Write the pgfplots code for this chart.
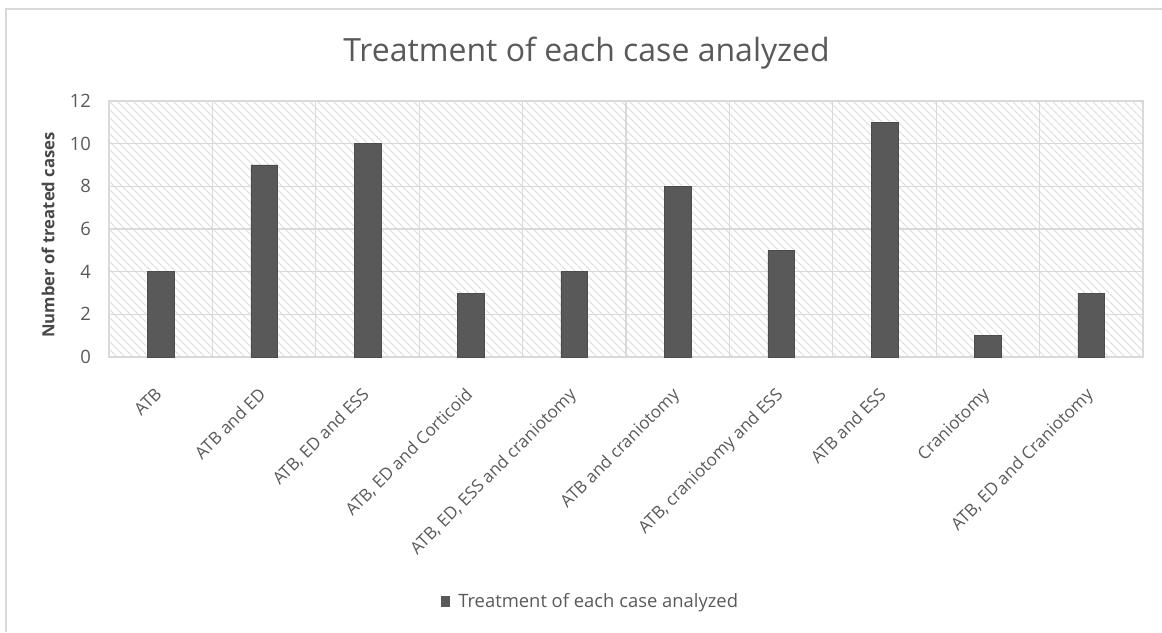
\documentclass[border=0pt]{standalone}
\usepackage{pgfplots}
\pgfplotsset{compat=1.18}
\usepackage{fontspec}
\setmainfont{Open Sans}
\usetikzlibrary{patterns.meta}
\definecolor{textgray}{HTML}{595959}
\definecolor{gridgray}{HTML}{D9D9D9}
\definecolor{hatchgray}{HTML}{DCDCDC}
\definecolor{barfill}{HTML}{595959}
\definecolor{framegray}{HTML}{D9D9D9}
\begin{document}
\begin{tikzpicture}
\path[use as bounding box] (0pt,0pt) rectangle (871.5pt,474pt);
\draw[framegray, line width=1.5pt] (4.5pt,0pt) -- (4.5pt,467.25pt) -- (871.5pt,467.25pt);
\node[anchor=base, text=textgray, font=\fontsize{24}{28}\selectfont, inner sep=0pt] at (439.9pt,427.5pt) {Treatment of each case analyzed};
\node[rotate=90, text=textgray!80!black, font=\fontsize{12.5}{15}\selectfont\bfseries, inner sep=0pt] at (36pt,297.75pt) {Number of treated cases};
\begin{axis}[
  at={(81.75pt,206.25pt)}, anchor=south west,
  scale only axis, width=775.5pt, height=192pt,
  xmin=-0.5, xmax=9.5, ymin=0, ymax=12,
  ybar, bar width=20pt,
  ytick={0,2,...,12},
  xtick={0,...,9},
  xticklabels={ATB, ATB and ED, {ATB, ED and ESS}, {ATB, ED and Corticoid}, {ATB, ED, ESS and craniotomy}, ATB and craniotomy, {ATB, craniotomy and ESS}, ATB and ESS, Craniotomy, {ATB, ED and Craniotomy}},
  minor xtick={0.5,1.5,...,8.5},
  xminorgrids, ymajorgrids,
  grid style={gridgray, line width=1pt},
  minor grid style={gridgray, line width=1pt},
  major tick length=0pt, minor tick length=0pt,
  axis line style={gridgray, line width=1pt},
  axis background/.style={pattern={Lines[angle=-45, distance=4pt, line width=1pt]}, pattern color=hatchgray},
  tick label style={text=textgray, font=\fontsize{13.8}{16}\selectfont},
  /pgf/number format/assume math mode=true,
  yticklabel style={xshift=-10pt},
  xticklabel style={rotate=45, anchor=north east, inner sep=0pt, yshift=-12pt, xshift=-19pt, font=\fontsize{12.8}{14}\selectfont},
  legend style={at={(0.466,-0.953)}, anchor=center, draw=none, fill=none, text=textgray, font=\fontsize{13.8}{16}\selectfont},
  legend image code/.code={\fill[barfill, draw=none] (0pt,-4.5pt) rectangle (7pt,3.5pt); \path[draw=none, fill=none] (0pt,0pt) -- (11pt,0pt);},
]
\addplot[fill=barfill, draw=barfill!85!black] coordinates {(0,4) (1,9) (2,10) (3,3) (4,4) (5,8) (6,5) (7,11) (8,1) (9,3)};
\addlegendentry{Treatment of each case analyzed}
\end{axis}
\end{tikzpicture}
\end{document}
